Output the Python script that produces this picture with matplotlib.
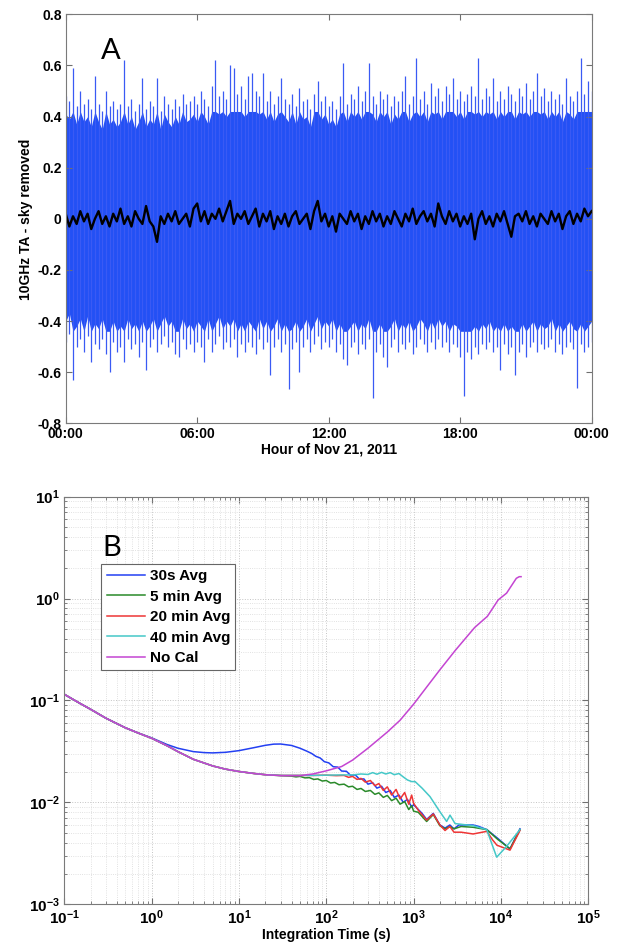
import numpy as np
import matplotlib.pyplot as plt
from matplotlib.ticker import FixedLocator, FuncFormatter, LogLocator, NullFormatter

plt.rcParams['font.family'] = ['Liberation Sans', 'DejaVu Sans']
plt.rcParams['font.weight'] = 'bold'
plt.rcParams['axes.labelweight'] = 'bold'
plt.rcParams['mathtext.fontset'] = 'custom'
plt.rcParams['mathtext.bf'] = 'Liberation Sans:bold'
plt.rcParams['mathtext.rm'] = 'Liberation Sans:bold'

# ---------- panel A : 10 GHz antenna temperature, 10 min samples over the day ----------
ta_upper = [0.48, 0.46, 0.59, 0.44, 0.50, 0.45, 0.47, 0.43, 0.56, 0.45, 0.42, 0.50,
            0.44, 0.46, 0.43, 0.45, 0.62, 0.44, 0.47, 0.42, 0.45, 0.55, 0.43, 0.46,
            0.44, 0.55, 0.42, 0.48, 0.45, 0.43, 0.47, 0.44, 0.49, 0.45, 0.46, 0.48,
            0.45, 0.50, 0.47, 0.44, 0.52, 0.62, 0.48, 0.50, 0.47, 0.60, 0.59, 0.49,
            0.52, 0.47, 0.56, 0.57, 0.50, 0.48, 0.57, 0.46, 0.50, 0.45, 0.48, 0.55,
            0.47, 0.45, 0.49, 0.44, 0.51, 0.46, 0.47, 0.43, 0.49, 0.54, 0.46, 0.48,
            0.44, 0.46, 0.43, 0.48, 0.61, 0.45, 0.49, 0.47, 0.52, 0.46, 0.50, 0.61,
            0.48, 0.45, 0.50, 0.47, 0.49, 0.44, 0.48, 0.46, 0.50, 0.56, 0.45, 0.48,
            0.63, 0.47, 0.50, 0.45, 0.53, 0.48, 0.51, 0.46, 0.52, 0.49, 0.55, 0.47,
            0.50, 0.46, 0.49, 0.52, 0.48, 0.63, 0.47, 0.51, 0.48, 0.55, 0.46, 0.50,
            0.47, 0.52, 0.49, 0.46, 0.51, 0.48, 0.53, 0.47, 0.50, 0.57, 0.48, 0.51,
            0.46, 0.50, 0.47, 0.49, 0.45, 0.55, 0.48, 0.46, 0.50, 0.63, 0.49, 0.54,
            0.50]
ta_lower = [-0.48, -0.45, -0.63, -0.50, -0.47, -0.52, -0.46, -0.56, -0.49, -0.51, -0.47, -0.53,
            -0.60, -0.48, -0.52, -0.50, -0.56, -0.47, -0.51, -0.49, -0.54, -0.48, -0.59, -0.50,
            -0.47, -0.52, -0.49, -0.46, -0.50, -0.48, -0.53, -0.54, -0.47, -0.51, -0.49, -0.52,
            -0.48, -0.50, -0.56, -0.47, -0.52, -0.49, -0.46, -0.51, -0.48, -0.50, -0.47, -0.54,
            -0.49, -0.52, -0.48, -0.50, -0.53, -0.47, -0.51, -0.48, -0.61, -0.50, -0.47, -0.52,
            -0.49, -0.665, -0.51, -0.48, -0.60, -0.50, -0.47, -0.52, -0.49, -0.46, -0.51, -0.48,
            -0.50, -0.47, -0.52, -0.49, -0.55, -0.57, -0.50, -0.48, -0.53, -0.49, -0.51, -0.47,
            -0.70, -0.52, -0.49, -0.54, -0.58, -0.50, -0.47, -0.52, -0.49, -0.51, -0.48, -0.53,
            -0.50, -0.47, -0.49, -0.52, -0.48, -0.51, -0.47, -0.50, -0.48, -0.52, -0.49, -0.50,
            -0.54, -0.695, -0.52, -0.55, -0.50, -0.53, -0.49, -0.51, -0.48, -0.52, -0.50, -0.59,
            -0.49, -0.53, -0.50, -0.61, -0.52, -0.49, -0.54, -0.50, -0.48, -0.52, -0.49, -0.51,
            -0.50, -0.47, -0.52, -0.49, -0.53, -0.50, -0.48, -0.51, -0.66, -0.49, -0.52, -0.50,
            -0.48]
ta_smooth = [0.02, -0.03, 0.01, -0.02, 0.03, -0.01, 0.02, -0.04, 0.00, 0.03, -0.02, 0.01,
             -0.03, 0.02, -0.01, 0.04, -0.02, 0.01, -0.03, 0.03, 0.00, -0.02, 0.05, -0.01,
             -0.03, -0.09, 0.01, -0.02, 0.02, -0.01, 0.03, -0.02, 0.00, 0.02, -0.03, 0.04,
             0.06, -0.01, 0.03, -0.02, 0.02, 0.00, 0.04, -0.01, 0.03, 0.07, -0.02, 0.02,
             0.00, 0.03, -0.02, 0.01, 0.04, -0.03, 0.02, -0.01, 0.03, -0.04, 0.01, -0.02,
             0.02, -0.03, 0.01, 0.03, -0.02, 0.00, 0.02, -0.04, 0.03, 0.07, -0.01, 0.02,
             -0.03, 0.01, -0.05, 0.02, 0.00, -0.02, 0.03, -0.01, 0.02, -0.04, 0.01, -0.02,
             0.03, -0.01, 0.02, -0.03, 0.01, -0.02, 0.03, 0.00, -0.03, 0.02, -0.01, 0.04,
             -0.02, 0.01, 0.03, -0.01, 0.02, -0.03, 0.06, 0.01, -0.02, 0.03, -0.01, 0.02,
             -0.03, 0.01, -0.02, 0.02, -0.08, 0.00, 0.03, -0.02, 0.01, -0.03, 0.02, -0.01,
             0.03, -0.02, -0.07, 0.01, 0.02, -0.01, 0.03, -0.02, 0.01, -0.03, 0.02, 0.00,
             -0.02, 0.03, -0.01, 0.02, -0.04, 0.01, 0.03, -0.02, 0.02, -0.01, 0.04, 0.01,
             0.03]
hour_ticks = [0, 6, 12, 18, 24]
hour_labels = ['00:00', '06:00', '12:00', '18:00', '00:00']
ta_ticks = [-0.8, -0.6, -0.4, -0.2, 0, 0.2, 0.4, 0.6, 0.8]

# ---------- panel B : Allan deviation ----------
tau_30s = [0.1, 0.15, 0.2, 0.3, 0.5, 0.7, 1, 1.5, 2, 3, 4, 5, 7, 10, 15, 20, 25, 30, 40, 50,
           60, 68, 76, 85, 95, 107, 120, 135, 150, 170, 190, 215, 240, 270, 300, 340, 380, 430,
           480, 540, 600, 680, 760, 850, 950, 1000,
           1090, 1250, 1410, 1680, 2000, 2290, 2600, 2900, 3300, 4800, 5600, 6900, 9000, 12700, 16500]
adev_30s = [0.115, 0.094, 0.082, 0.067, 0.054, 0.048, 0.043, 0.037, 0.034, 0.0315, 0.0308, 0.0306,
            0.031, 0.0322, 0.0345, 0.0363, 0.0373, 0.0374, 0.0362, 0.034,
            0.0318, 0.0302, 0.0283, 0.0273, 0.0251, 0.0244, 0.0224, 0.0222, 0.0203, 0.0202, 0.0184,
            0.0186, 0.0169, 0.0170, 0.0151, 0.0156, 0.0138, 0.0144, 0.0125, 0.0131, 0.0112, 0.0118,
            0.0100, 0.0107, 0.0090, 0.0095,
            0.0088, 0.0078, 0.0068, 0.0078, 0.0060, 0.0056, 0.0060, 0.0055, 0.0060, 0.0060, 0.0058,
            0.0054, 0.0045, 0.0035, 0.0055]

tau_5m = [0.1, 0.15, 0.2, 0.3, 0.5, 0.7, 1, 1.5, 2, 3, 5, 7, 10, 15, 20, 30,
          40, 45, 50, 57, 64, 72, 80, 90, 100, 112, 125, 140, 160, 180, 200, 225, 250, 280, 320,
          360, 400, 450, 500, 560, 630, 700, 790, 880, 950, 1000,
          1130, 1410, 1680, 2000, 2290, 2600, 2900, 3500, 4800, 6900, 9000, 12700, 16500]
adev_5m = [0.115, 0.094, 0.082, 0.067, 0.054, 0.048, 0.0426, 0.036, 0.0315, 0.0265, 0.0228, 0.0212,
           0.0201, 0.0192, 0.0187, 0.0183,
           0.0181, 0.0178, 0.0180, 0.0174, 0.0175, 0.0168, 0.0170, 0.0162, 0.0164, 0.0155, 0.0157,
           0.0149, 0.0151, 0.0142, 0.0144, 0.0134, 0.0137, 0.0128, 0.0131, 0.0120, 0.0124, 0.0112,
           0.0117, 0.0104, 0.0110, 0.0096, 0.0102, 0.0085, 0.0093, 0.0082,
           0.0080, 0.0065, 0.0076, 0.0059, 0.0055, 0.0058, 0.0055, 0.0058, 0.0057, 0.0054, 0.0044,
           0.0035, 0.0054]

tau_20m = [0.1, 0.15, 0.2, 0.3, 0.5, 0.7, 1, 1.5, 2, 3, 5, 7, 10, 15, 20, 30, 50, 70, 100, 130,
           160, 180, 200, 225, 250, 280, 320, 360, 400, 450, 500, 560, 630, 700, 790, 880, 950, 1000,
           1130, 1410, 1680, 2000, 2290, 2600, 2900, 3500, 4800, 6900, 8000, 9000, 12700, 16500]
adev_20m = [0.115, 0.094, 0.082, 0.067, 0.054, 0.048, 0.0426, 0.036, 0.0315, 0.0265, 0.0228, 0.0212,
            0.0201, 0.0192, 0.0187, 0.0184, 0.0184, 0.0184, 0.0185, 0.0183,
            0.0184, 0.0176, 0.0180, 0.0168, 0.0172, 0.0158, 0.0164, 0.0146, 0.0153, 0.0131, 0.0142,
            0.0118, 0.0134, 0.0108, 0.0125, 0.0096, 0.0118, 0.0098,
            0.0084, 0.0067, 0.0077, 0.0060, 0.0053, 0.0058, 0.0051, 0.0051, 0.0049, 0.0052, 0.0043,
            0.0038, 0.0034, 0.0053]

tau_40m = [0.1, 0.15, 0.2, 0.3, 0.5, 0.7, 1, 1.5, 2, 3, 5, 7, 10, 15, 20, 30, 50, 70, 100, 150, 200,
           250, 300, 340, 380, 430, 480, 540, 600, 680, 760, 850, 950, 1040,
           1250, 1540, 2000, 2390, 2610, 2980, 4830, 6870, 8940, 11600, 16500]
adev_40m = [0.115, 0.094, 0.082, 0.067, 0.054, 0.048, 0.0426, 0.036, 0.0315, 0.0265, 0.0228, 0.0212,
            0.0201, 0.0192, 0.0187, 0.0184, 0.0184, 0.0184, 0.0185, 0.0186, 0.0186,
            0.0190, 0.0188, 0.0196, 0.0189, 0.0197, 0.0190, 0.0196, 0.0187, 0.0192, 0.0178, 0.0166,
            0.0160, 0.0160,
            0.0138, 0.0114, 0.0081, 0.0065, 0.0075, 0.0062, 0.0059, 0.0054, 0.0029, 0.0037, 0.0054]

tau_nocal = [0.1, 0.15, 0.2, 0.3, 0.5, 0.7, 1, 1.5, 2, 3, 5, 7, 10, 15, 20, 30, 50, 70, 100, 150,
             200, 300, 500, 700, 1000, 1500, 2000, 3000, 5000, 7000, 9300, 11600, 15000, 16200, 17000]
adev_nocal = [0.115, 0.094, 0.082, 0.067, 0.054, 0.048, 0.0426, 0.036, 0.0315, 0.0265, 0.0228, 0.0212,
              0.0201, 0.0192, 0.0187, 0.0183, 0.0183, 0.019, 0.0204, 0.0225, 0.026, 0.034, 0.049,
              0.064, 0.092, 0.145, 0.20, 0.31, 0.52, 0.67, 0.97, 1.13, 1.58, 1.64, 1.64]

series_labels = ['30s Avg', '5 min Avg', '20 min Avg', '40 min Avg', 'No Cal']
series_colors = ['#2340f2', '#2a8a2a', '#ee3535', '#45c8c8', '#c445d2']

fig = plt.figure(figsize=(6.18, 9.5), dpi=100)

# ---------------- panel A ----------------
ax1 = fig.add_axes([0.1063, 0.5544, 0.8511, 0.4305])
t = np.linspace(0, 24, len(ta_upper))
up = np.array(ta_upper)
lo = np.array(ta_lower)
# dense body follows the spikes a little below their tips, the spikes sit on top
ax1.fill_between(t, np.maximum(lo + 0.08, -0.44), np.minimum(up - 0.07, 0.42),
                 color='#2350f5', lw=0)
ax1.vlines(t, lo, up, color='#3a5af4', lw=0.9)
ax1.plot(t, ta_smooth, color='black', lw=1.7)

ax1.set_xlim(0, 24)
ax1.set_ylim(-0.8, 0.8)
ax1.xaxis.set_major_locator(FixedLocator(hour_ticks))
ax1.set_xticklabels(hour_labels)
ax1.yaxis.set_major_locator(FixedLocator(ta_ticks))
ax1.yaxis.set_major_formatter(FuncFormatter(lambda v, p: '%g' % round(v, 1)))
ax1.tick_params(direction='in', top=True, right=True, length=4, width=0.8,
                color='#6f6f6f', labelsize=10, pad=3)
for s in ax1.spines.values():
    s.set_color('#7a7a7a')
    s.set_linewidth(0.8)
ax1.set_xlabel('Hour of Nov 21, 2011', fontsize=10, labelpad=1)
ax1.set_ylabel('10GHz TA - sky removed', fontsize=10, labelpad=3)
ax1.text(0.086, 0.91, 'A', transform=ax1.transAxes, fontsize=21, fontweight='normal',
         family=['Lato', 'DejaVu Sans'], ha='center', va='center')

# ---------------- panel B ----------------
ax2 = fig.add_axes([0.104, 0.0481, 0.8479, 0.4291])
taus = [tau_30s, tau_5m, tau_20m, tau_40m, tau_nocal]
adevs = [adev_30s, adev_5m, adev_20m, adev_40m, adev_nocal]
for tau, dev, lab, col in zip(taus, adevs, series_labels, series_colors):
    ax2.loglog(tau, dev, color=col, lw=1.1, label=lab)

ax2.set_xlim(1e-1, 1e5)
ax2.set_ylim(1e-3, 1e1)
ax2.xaxis.set_major_locator(LogLocator(base=10, numticks=10))
ax2.xaxis.set_minor_locator(LogLocator(base=10, subs=np.arange(2, 10), numticks=20))
ax2.yaxis.set_major_locator(LogLocator(base=10, numticks=10))
ax2.yaxis.set_minor_locator(LogLocator(base=10, subs=np.arange(2, 10), numticks=20))
powfmt = FuncFormatter(lambda v, p: r'$\mathbf{10^{%d}}$' % int(round(np.log10(v))))
ax2.xaxis.set_major_formatter(powfmt)
ax2.yaxis.set_major_formatter(powfmt)
ax2.xaxis.set_minor_formatter(NullFormatter())
ax2.yaxis.set_minor_formatter(NullFormatter())
ax2.grid(True, which='major', color='#c4c4c4', lw=0.7, ls=':')
ax2.grid(True, which='minor', color='#d8d8d8', lw=0.6, ls=':')
ax2.set_axisbelow(True)
ax2.tick_params(which='both', direction='in', top=True, right=True, color='#6f6f6f',
                labelsize=11, pad=3)
ax2.tick_params(which='major', length=4, width=0.8)
ax2.tick_params(which='minor', length=2.5, width=0.6)
for s in ax2.spines.values():
    s.set_color('#7a7a7a')
    s.set_linewidth(0.8)
ax2.set_xlabel('Integration Time (s)', fontsize=10, labelpad=1)
ax2.text(0.091, 0.874, 'B', transform=ax2.transAxes, fontsize=21, fontweight='normal',
         family=['Lato', 'DejaVu Sans'], ha='center', va='center')

leg = ax2.legend(loc='upper left', bbox_to_anchor=(0.071, 0.835), borderaxespad=0,
                 fancybox=False, framealpha=1, edgecolor='#666666', fontsize=11,
                 handlelength=2.5, handletextpad=0.3, labelspacing=0.42, borderpad=0.35)
leg.get_frame().set_linewidth(0.8)

fig.savefig('out.png', dpi=100)
